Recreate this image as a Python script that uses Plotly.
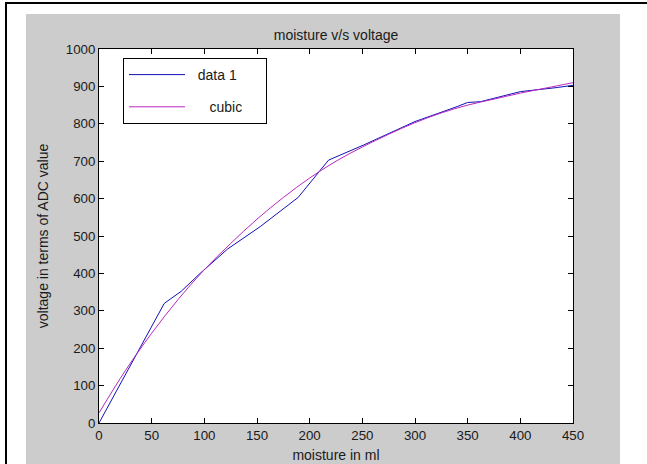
import plotly.graph_objects as go

# measured data ("data 1")
data_x = [0, 62, 78, 96, 122, 153, 189, 218, 251, 300, 340, 350, 362, 400, 435, 450]
data_y = [0, 320, 352, 400, 465, 525, 603, 703, 743, 806, 846, 857, 859, 886, 897, 903]

# cubic fit curve
cubic_x = [0, 25, 50, 75, 100, 125, 150, 175, 200, 225, 250, 275, 300, 325, 350, 375, 400, 425, 450]
cubic_y = [27, 140, 240, 330, 410, 480, 545, 603, 655, 700, 738, 772, 803, 829, 850, 866, 882, 896, 910]

x_ticks = [0, 50, 100, 150, 200, 250, 300, 350, 400, 450]
y_ticks = [0, 100, 200, 300, 400, 500, 600, 700, 800, 900, 1000]

W, H = 647, 464
L, R, T, B = 99, 573, 49, 423
pw, ph = R - L, B - T

def px(xp):
    return (xp - L) / pw

def py(yp):
    return (B - yp) / ph

FONT = "Liberation Sans, Arial, sans-serif"
FS = 14
TFS = 13.3
TXT = "#1a1a1a"
NB = "\u00a0"

fig = go.Figure()
fig.add_trace(go.Scatter(x=data_x, y=data_y, mode="lines", name=NB * 2 + "data 1" + NB * 6,
                         line=dict(color="#1010b8", width=1), legendgroup="a"))
fig.add_trace(go.Scatter(x=cubic_x, y=cubic_y, mode="lines", name=NB * 5 + "cubic",
                         line=dict(color="#b828c0", width=1, shape="spline"), legendgroup="b"))

fig.update_layout(
    width=W, height=H,
    margin=dict(l=L, r=W - R, t=T, b=H - B, pad=0, autoexpand=False),
    paper_bgcolor="#cccccc", plot_bgcolor="white",
    font=dict(family=FONT, size=FS, color=TXT),
    title=dict(text="moisture v/s voltage", x=(L + R) / 2 / W, xanchor="center",
               y=1 - 35 / H, yanchor="middle", font=dict(size=FS, color=TXT)),
    showlegend=True,
    legend=dict(x=px(123), y=py(58), xanchor="left", yanchor="top",
                bgcolor="white", bordercolor="black", borderwidth=1,
                font=dict(size=FS, color=TXT), tracegroupgap=11,
                itemwidth=56),
    shapes=[
        # white margins outside the grey figure area
        dict(type="rect", xref="paper", yref="paper", x0=px(-5), x1=px(26), y0=py(470), y1=py(-5),
             fillcolor="white", line=dict(width=0), layer="below"),
        dict(type="rect", xref="paper", yref="paper", x0=px(-5), x1=px(650), y0=py(14), y1=py(-5),
             fillcolor="white", line=dict(width=0), layer="below"),
        dict(type="rect", xref="paper", yref="paper", x0=px(620), x1=px(650), y0=py(470), y1=py(-5),
             fillcolor="white", line=dict(width=0), layer="below"),
        dict(type="line", xref="paper", yref="paper", x0=px(5), x1=px(650), y0=py(3), y1=py(3),
             line=dict(color="black", width=2), layer="above"),
        dict(type="line", xref="paper", yref="paper", x0=px(6), x1=px(6), y0=py(2), y1=py(470),
             line=dict(color="black", width=2), layer="above"),
    ],
)

fig.update_xaxes(range=[0, 450], tickvals=x_ticks, ticks="inside", ticklen=5, tickcolor="black",
                 showline=True, linecolor="black", linewidth=1, mirror="allticks",
                 showgrid=False, zeroline=False, automargin=False,
                 tickfont=dict(size=TFS, color=TXT),
                 title=dict(text="moisture in ml", standoff=8, font=dict(size=FS, color=TXT)))
fig.update_yaxes(range=[0, 1000], tickvals=y_ticks, ticks="inside", ticklen=5, tickcolor="black",
                 showline=True, linecolor="black", linewidth=1, mirror="allticks",
                 showgrid=False, zeroline=False, automargin=False,
                 tickfont=dict(size=TFS, color=TXT),
                 title=dict(text="voltage in terms of ADC value", standoff=13, font=dict(size=FS, color=TXT)))

fig.write_html("out.html", config={"displayModeBar": False},
               post_script="document.body.style.margin='0px';document.body.style.overflow='hidden';")
